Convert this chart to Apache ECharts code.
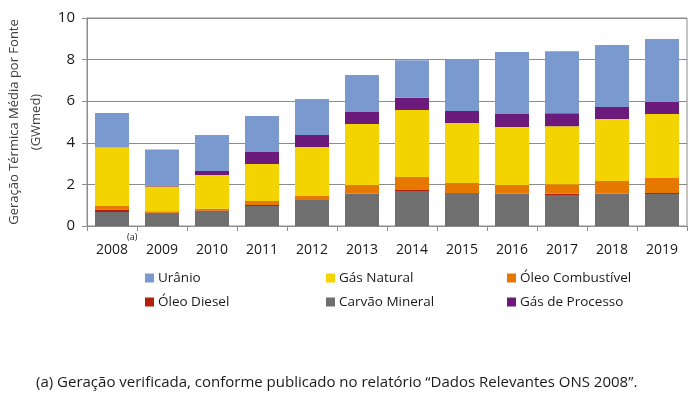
<!DOCTYPE html>
<html>
<head>
<meta charset="utf-8">
<script src="https://cdn.jsdelivr.net/npm/echarts@6/dist/echarts.min.js"></script>
<style>html,body{margin:0;padding:0;background:#fff}#c{width:693px;height:400px}</style>
</head>
<body>
<div id="c"></div>
<script>
var years = ['2008','2009','2010','2011','2012','2013','2014','2015','2016','2017','2018','2019'];
var carvaoMineral   = [0.67,0.62,0.69,0.96,1.25,1.55,1.68,1.59,1.55,1.49,1.55,1.54];
var oleoDiesel      = [0.12,0.02,0.05,0.05,0.00,0.00,0.05,0.00,0.00,0.06,0.00,0.05];
var oleoCombustivel = [0.17,0.07,0.09,0.19,0.19,0.42,0.63,0.48,0.42,0.46,0.61,0.72];
var gasNatural      = [2.81,1.19,1.62,1.78,2.36,2.93,3.22,2.88,2.79,2.79,2.98,3.07];
var gasProcesso     = [0.00,0.05,0.19,0.58,0.58,0.58,0.58,0.58,0.62,0.62,0.58,0.58];
var uranio          = [1.66,1.73,1.73,1.73,1.73,1.78,1.81,2.50,2.98,2.98,2.98,3.03];
var yTicks = [0,2,4,6,8,10];

var FONT = 'Open Sans';
var txt = '#1a1a1a';
var axisGray = '#8c8c8c';

function bar(name, data, color) {
  return { name: name, type: 'bar', stack: 'total', data: data, barCategoryGap: '32%',
           itemStyle: { color: color }, emphasis: { disabled: true } };
}

var chart = echarts.init(document.getElementById('c'));
function legendCol(left, names) {
  return { orient: 'vertical', left: left, top: 271, padding: 0, itemWidth: 9, itemHeight: 9, itemGap: 10,
           icon: 'rect', data: names, selectedMode: false,
           textStyle: { fontFamily: FONT, fontSize: 13.5, color: txt, padding: [0,0,0,-1] } };
}
chart.setOption({
  animation: false,
  textStyle: { fontFamily: FONT },
  grid: { left: 87, right: 6, top: 18, bottom: 174, show: true, borderColor: axisGray, borderWidth: 1,
          outerBoundsMode: 'none', containLabel: false },
  legend: [
    legendCol(145, ['Urânio', 'Óleo Diesel']),
    legendCol(326, ['Gás Natural', 'Carvão Mineral']),
    legendCol(507, ['Óleo Combustível', 'Gás de Processo'])
  ],
  xAxis: {
    type: 'category', data: years,
    axisLine: { lineStyle: { color: axisGray, width: 1 } },
    axisTick: { show: true, length: 5, lineStyle: { color: axisGray } },
    axisLabel: { fontFamily: FONT, fontSize: 14, color: txt, margin: 17 }
  },
  yAxis: {
    type: 'value', min: yTicks[0], max: yTicks[yTicks.length-1], interval: 2,
    name: 'Geração Térmica Média por Fonte\n(GWmed)',
    nameLocation: 'middle', nameGap: 35, nameRotate: 90,
    nameTextStyle: { fontFamily: FONT, fontSize: 13, color: '#404040', lineHeight: 22 },
    axisLine: { show: true, lineStyle: { color: axisGray } },
    axisTick: { show: true, length: 5, lineStyle: { color: axisGray } },
    splitLine: { lineStyle: { color: axisGray, width: 1 } },
    axisLabel: { fontFamily: FONT, fontSize: 15, color: txt, margin: 12 }
  },
  series: [
    bar('Carvão Mineral', carvaoMineral, '#6f6f6f'),
    bar('Óleo Diesel', oleoDiesel, '#b3200f'),
    bar('Óleo Combustível', oleoCombustivel, '#e67800'),
    bar('Gás Natural', gasNatural, '#f3d300'),
    bar('Gás de Processo', gasProcesso, '#6c1a7c'),
    bar('Urânio', uranio, '#7a99cf')
  ],
  graphic: [
    { type: 'text', left: 127, top: 233, style: { text: '(a)', font: '9px "' + FONT + '"', fill: txt } },
    { type: 'text', left: 36, top: 375, style: { text: '(a) Geração verificada, conforme publicado no relatório “Dados Relevantes ONS 2008”.', font: '15px "' + FONT + '"', fill: txt } }
  ]
});
</script>
</body>
</html>
